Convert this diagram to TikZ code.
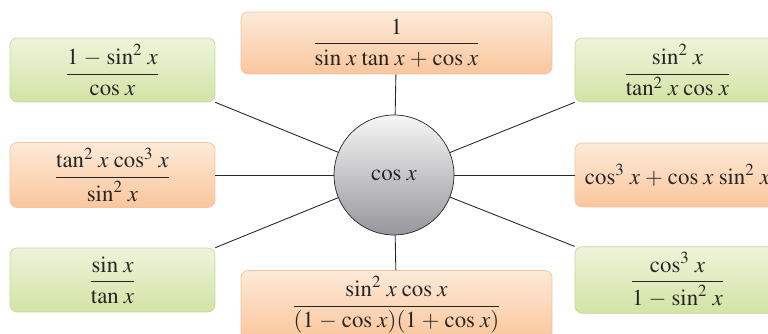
\documentclass[tikz,border=0pt]{standalone}
\usepackage{amsmath}
\usepackage{mathptmx}
\usepackage{xcolor}
\usetikzlibrary{positioning}

\thinmuskip=4mu
\medmuskip=4mu plus 2mu minus 2mu

\definecolor{greentop}{RGB}{238,244,218}
\definecolor{greenbot}{RGB}{210,228,165}
\definecolor{greenline}{RGB}{200,216,160}
\definecolor{orangetop}{RGB}{253,234,216}
\definecolor{orangebot}{RGB}{250,198,156}
\definecolor{orangeline}{RGB}{242,196,160}
\definecolor{hubtop}{RGB}{246,246,246}
\definecolor{hubmid}{RGB}{212,212,214}
\definecolor{hubbot}{RGB}{150,150,156}

\begin{document}
\begin{tikzpicture}[
                x=0.02cm, y=-0.02cm,
                box/.style={
                        draw,
                        rounded corners=4pt,
                        minimum width=4.1cm,
                        minimum height=1.28cm,
                        align=center,
                        text=black!85,
                        font=\fontsize{13}{15}\selectfont
                    },
                greenbox/.style={box, draw=greenline, top color=greentop, bottom color=greenbot},
                orangebox/.style={box, draw=orangeline, top color=orangetop, bottom color=orangebot},
                hub/.style={
                        circle,
                        draw=black!85,
                        minimum size=2.4cm,
                        top color=hubtop,
                        middle color=hubmid,
                        bottom color=hubbot,
                        text=black!85,
                        font=\fontsize{13}{15}\selectfont
                    },
                spoke/.style={draw=black!85, line width=0.5pt}
            ]

            \useasboundingbox (0,0) rectangle (768,334);

            \node[hub] (c) at (394,175) {$\cos x$};

            \node[orangebox, minimum width=6.22cm, minimum height=1.24cm] (tc) at (396.5,43)
                {$\dfrac{1}{\sin x\tan x+\cos x}$};
            \node[orangebox, minimum width=6.22cm, minimum height=1.24cm] (bc) at (396.5,305)
                {$\dfrac{\sin^2 x\cos x}{(1-\cos x)(1+\cos x)}$};

            \node[greenbox] (tl) at (112.5,70) {$\dfrac{1-\sin^2 x}{\cos x}$};
            \node[orangebox] (ml) at (112.5,175) {$\dfrac{\tan^2 x\cos^3 x}{\sin^2 x}$};
            \node[greenbox] (bl) at (112.5,280) {$\dfrac{\sin x}{\tan x}$};

            \node[greenbox] (tr) at (677.5,70) {$\dfrac{\sin^2 x}{\tan^2 x\cos x}$};
            \node[orangebox] (mr) at (677.5,175) {$\cos^3 x+\cos x\sin^2 x$};
            \node[greenbox] (br) at (677.5,280) {$\dfrac{\cos^3 x}{1-\sin^2 x}$};

            \draw[spoke] (c) -- (tc);
            \draw[spoke] (c) -- (bc);
            \draw[spoke] (c) -- (ml);
            \draw[spoke] (c) -- (mr);
            \draw[spoke] (c) -- (tl.south east);
            \draw[spoke] (c) -- (bl.north east);
            \draw[spoke] (c) -- (tr.south west);
            \draw[spoke] (c) -- (br.north west);

        \end{tikzpicture}
\end{document}
